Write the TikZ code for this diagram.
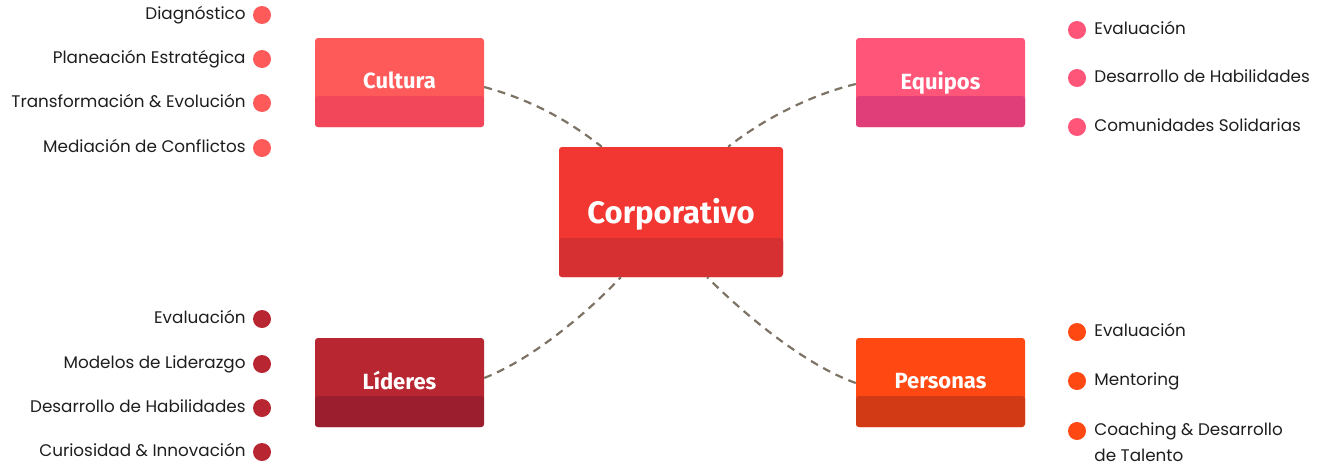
\documentclass[tikz,border=0pt]{standalone}
\usepackage{fontspec}
\setmainfont{Poppins}
\newfontfamily\titulofont{Fira Sans}
\usetikzlibrary{positioning}
\definecolor{culturaA}{RGB}{255,90,90}
\definecolor{culturaB}{RGB}{242,70,90}
\definecolor{equiposA}{RGB}{255,85,120}
\definecolor{equiposB}{RGB}{224,62,120}
\definecolor{lideresA}{RGB}{184,38,50}
\definecolor{lideresB}{RGB}{154,30,46}
\definecolor{personasA}{RGB}{255,72,18}
\definecolor{personasB}{RGB}{210,58,22}
\definecolor{corpA}{RGB}{242,55,50}
\definecolor{corpB}{RGB}{215,48,50}
\definecolor{conectorgris}{RGB}{125,115,100}
\definecolor{textoitem}{RGB}{30,30,30}
\tikzset{
  caja/.style n args={3}{rectangle, rounded corners=3pt, inner sep=0pt, fill=#1,
    text=white, font=\titulofont\bfseries\fontsize{22}{26}\selectfont, text depth=4pt,
    minimum width=169pt, minimum height=89pt,
    path picture={\fill[#2, rounded corners=3pt] ([yshift=#3]path picture bounding box.south west) rectangle (path picture bounding box.south east);}},
  punto/.style={circle, fill=#1, inner sep=0pt, minimum size=18pt},
  item/.style={inner sep=0pt, text=textoitem, font=\fontsize{16.8}{20}\selectfont,
    text height=1.15em, text depth=0.2em},
  conector/.style={draw=conectorgris, line width=2.2pt, dash pattern=on 8pt off 6pt}
}
\begin{document}
\begin{tikzpicture}[x=1pt, y=-1pt]
  \useasboundingbox (0,0) rectangle (1321,466);
  % Cajas principales
  \node[caja={corpA}{corpB}{39pt}, minimum width=224pt, minimum height=130pt,
        font=\titulofont\bfseries\fontsize{31}{36}\selectfont, text depth=2pt] (corp) at (671,212) {Corporativo};
  \node[caja={culturaA}{culturaB}{31pt}] (cultura) at (399.5,82.5) {Cultura};
  \node[caja={equiposA}{equiposB}{31pt}] (equipos) at (940.5,82.5) {Equipos};
  \node[caja={lideresA}{lideresB}{31pt}] (lideres) at (399.5,382.5) {Líderes};
  \node[caja={personasA}{personasB}{31pt}] (personas) at (940.5,382.5) {Personas};
  % Conectores punteados
  \draw[conector] ([yshift=-4.5pt]cultura.east) .. controls (535,101) and (570,122) .. ([xshift=43pt]corp.north west);
  \draw[conector] ([yshift=-1.5pt]equipos.west) .. controls (810,95) and (762,120) .. ([xshift=-55pt]corp.north east);
  \draw[conector] ([yshift=4.5pt]lideres.east) .. controls (535,358) and (590,310) .. ([xshift=62pt]corp.south west);
  \draw[conector] ([yshift=-0.5pt]personas.west) .. controls (805,365) and (745,315) .. ([xshift=-76pt]corp.south east);
  % Cultura
  \node[punto=culturaA] (cul1) at (262,15) {};
  \node[punto=culturaA] (cul2) at (262,59) {};
  \node[punto=culturaA] (cul3) at (262,103) {};
  \node[punto=culturaA] (cul4) at (262,148) {};
  \node[item, left=7pt of cul1] {Diagnóstico};
  \node[item, left=7pt of cul2] {Planeación Estratégica};
  \node[item, left=7pt of cul3] {Transformación \& Evolución};
  \node[item, left=7pt of cul4] {Mediación de Conflictos};
  % Líderes
  \node[punto=lideresA] (lid1) at (262,319) {};
  \node[punto=lideresA] (lid2) at (262,364) {};
  \node[punto=lideresA] (lid3) at (262,408) {};
  \node[punto=lideresA] (lid4) at (262,452) {};
  \node[item, left=7pt of lid1] {Evaluación};
  \node[item, left=7pt of lid2] {Modelos de Liderazgo};
  \node[item, left=7pt of lid3] {Desarrollo de Habilidades};
  \node[item, left=7pt of lid4] {Curiosidad \& Innovación};
  % Equipos
  \node[punto=equiposA] (equ1) at (1077,30) {};
  \node[punto=equiposA] (equ2) at (1077,78) {};
  \node[punto=equiposA] (equ3) at (1077,127) {};
  \node[item, right=8pt of equ1] {Evaluación};
  \node[item, right=8pt of equ2] {Desarrollo de Habilidades};
  \node[item, right=8pt of equ3] {Comunidades Solidarias};
  % Personas
  \node[punto=personasA] (per1) at (1077,332) {};
  \node[punto=personasA] (per2) at (1077,381) {};
  \node[punto=personasA] (per3) at (1077,431) {};
  \node[item, right=8pt of per1] {Evaluación};
  \node[item, right=8pt of per2] {Mentoring};
  \node[item, right=8pt of per3] (per3a) {Coaching \& Desarrollo};
  \node[item, anchor=west, text height=0.95em, text depth=0pt] (per3b) at ([yshift=-26pt]per3a.west) {de Talento};
\end{tikzpicture}
\end{document}
